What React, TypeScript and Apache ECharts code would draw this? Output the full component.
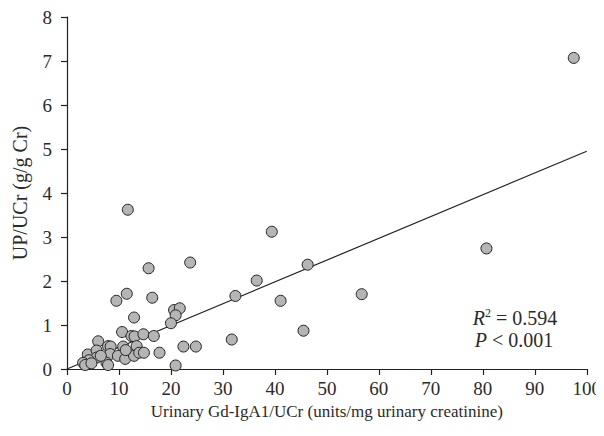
import React, { useEffect, useRef } from "react";
import * as echarts from "echarts";

const xValues = [
  97.5, 80.7, 56.7, 46.3, 45.5, 39.4, 41.1, 36.5, 32.4, 31.7,
  23.7, 15.7, 11.7, 11.5, 9.5, 16.4, 12.9, 20.6, 21.7, 20.9,
  20.0, 10.6, 12.4, 13.0, 14.7, 16.7, 6.0, 7.9, 8.4, 10.8,
  13.4, 22.4, 24.8, 4.0, 5.7, 8.3, 9.8, 11.2, 12.9, 13.9,
  14.8, 17.8, 20.9, 5.7, 4.2, 3.1, 3.5, 7.6, 7.9, 4.7,
  6.5, 11.3,
];
const yValues = [
  7.07, 2.74, 1.70, 2.37, 0.87, 3.12, 1.55, 2.01, 1.66, 0.67,
  2.42, 2.29, 3.62, 1.71, 1.55, 1.62, 1.17, 1.34, 1.38, 1.22,
  1.04, 0.84, 0.75, 0.74, 0.79, 0.75, 0.63, 0.52, 0.51, 0.51,
  0.52, 0.51, 0.51, 0.33, 0.42, 0.34, 0.30, 0.23, 0.30, 0.37,
  0.37, 0.37, 0.08, 0.26, 0.20, 0.14, 0.09, 0.14, 0.09, 0.13,
  0.30, 0.43,
];
const fitX = [0, 100];
const fitY = [0, 4.95];
const xTicks = [0, 10, 20, 30, 40, 50, 60, 70, 80, 90, 100];
const yTicks = [0, 1, 2, 3, 4, 5, 6, 7, 8];

const FONT = "'Liberation Serif', 'DejaVu Serif', serif";
const TXT = "#2b2b2b";

export default function App() {
  const ref = useRef<HTMLDivElement>(null);
  useEffect(() => {
    if (!ref.current) return;
    const chart = echarts.init(ref.current, undefined, { renderer: "svg" });
    const axisCommon = {
      axisLine: { show: true, lineStyle: { color: "#222", width: 1.2 } },
      axisTick: { show: true, inside: false, length: 6, lineStyle: { color: "#222", width: 1.2 } },
      splitLine: { show: false },
      axisLabel: { color: TXT, fontFamily: FONT, fontSize: 19 },
    };
    chart.setOption({
      animation: false,
      backgroundColor: "#fff",
      grid: { left: 67, right: 16, top: 17, bottom: 67, containLabel: false },
      xAxis: {
        type: "value",
        min: xTicks[0],
        max: xTicks[xTicks.length - 1],
        interval: 10,
        name: "Urinary Gd-IgA1/UCr (units/mg urinary creatinine)",
        nameLocation: "middle",
        nameGap: 29,
        nameTextStyle: { color: TXT, fontFamily: FONT, fontSize: 17 },
        ...axisCommon,
        axisLabel: { ...axisCommon.axisLabel, margin: 10 },
      },
      yAxis: {
        type: "value",
        min: yTicks[0],
        max: yTicks[yTicks.length - 1],
        interval: 1,
        name: "UP/UCr (g/g Cr)",
        nameLocation: "middle",
        nameGap: 37,
        nameTextStyle: { color: TXT, fontFamily: FONT, fontSize: 20 },
        ...axisCommon,
        axisLabel: { ...axisCommon.axisLabel, margin: 15 },
      },
      series: [
        {
          type: "line",
          data: fitX.map((x, i) => [x, fitY[i]]),
          symbol: "none",
          lineStyle: { color: "#222", width: 1.2 },
          z: 1,
        },
        {
          type: "scatter",
          data: xValues.map((x, i) => [x, yValues[i]]),
          symbol: "circle",
          symbolSize: 11,
          itemStyle: { color: "#b5b5b5", borderColor: "#222", borderWidth: 1, opacity: 1 },
          z: 2,
        },
      ],
      graphic: [
        {
          type: "text",
          x: 515,
          y: 318,
          style: {
            text: "{i|R}{s|2} = 0.594",
            fill: TXT,
            font: `20px ${FONT}`,
            align: "center",
            verticalAlign: "middle",
            rich: {
              i: { fontStyle: "italic", fontFamily: FONT, fontSize: 20, fill: TXT },
              s: { fontFamily: FONT, fontSize: 12, verticalAlign: "top", padding: [0, 0, 10, 0], fill: TXT },
            },
          },
        },
        {
          type: "text",
          x: 514,
          y: 340,
          style: {
            text: "{i|P} < 0.001",
            fill: TXT,
            font: `20px ${FONT}`,
            align: "center",
            verticalAlign: "middle",
            rich: {
              i: { fontStyle: "italic", fontFamily: FONT, fontSize: 20, fill: TXT },
            },
          },
        },
      ],
    });
    return () => chart.dispose();
  }, []);
  return <div ref={ref} style={{ width: 604, height: 436, margin: -8 }} />;
}
